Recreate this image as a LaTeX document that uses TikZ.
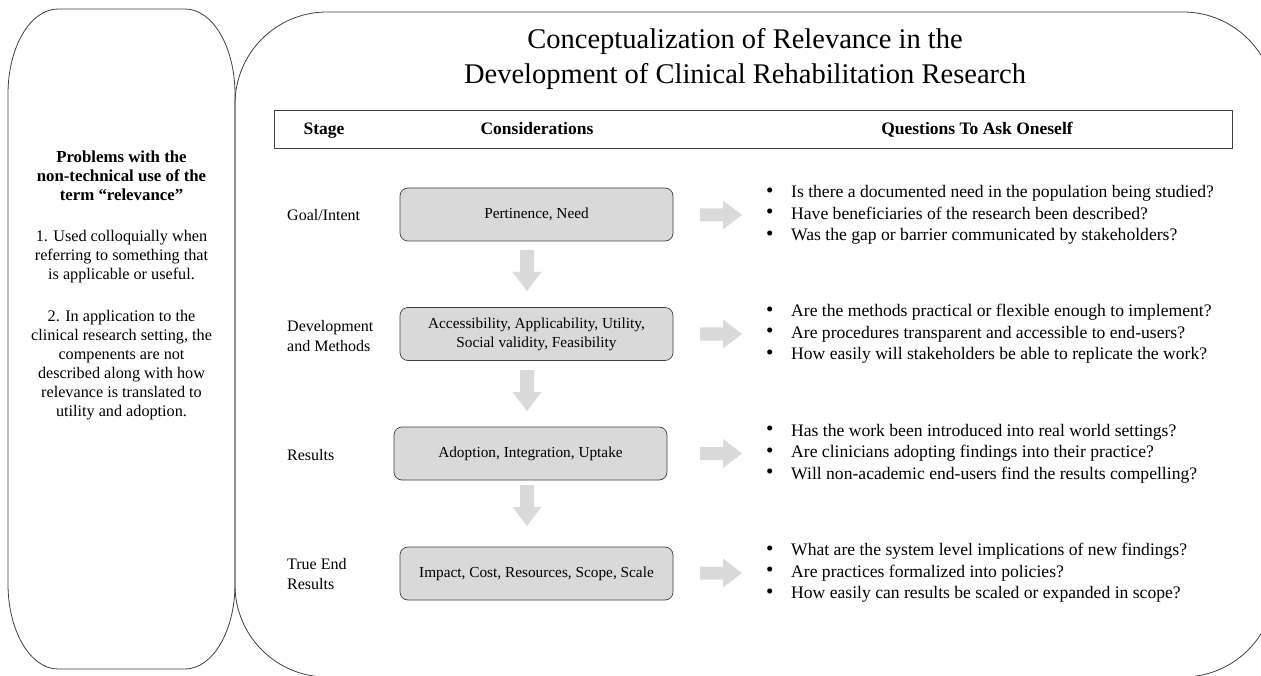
\documentclass[tikz,border=0pt]{standalone}
\usepackage{fontspec}
\setmainfont{Liberation Serif}
\usetikzlibrary{calc}
\definecolor{boxgray}{HTML}{D9D9D9}
\definecolor{arrgray}{HTML}{DADADA}
\definecolor{linegray}{HTML}{404040}
\begin{document}
\begin{tikzpicture}[x=1pt,y=-1pt,
  panel/.style={draw=linegray, line width=0.8pt},
  hdr/.style={font=\fontsize{17.5}{21}\selectfont\bfseries, inner sep=0pt, anchor=base},
  stagelbl/.style={font=\fontsize{16}{20}\selectfont, anchor=west, align=left, inner sep=0pt},
  consbox/.style={draw=linegray, fill=boxgray, rounded corners=8pt, minimum width=273pt, minimum height=53pt, font=\fontsize{15.3}{19}\selectfont, align=center, line width=0.7pt},
  qtext/.style={font=\fontsize{17.6}{21.5}\selectfont, anchor=west, align=left, inner sep=0pt},
  lefttext/.style={font=\fontsize{16.2}{19}\selectfont, align=center, inner sep=0pt},
  downarr/.pic={\fill[arrgray] (-7,0) -- (7,0) -- (7,22) -- (14.5,22) -- (0,41) -- (-14.5,22) -- (-7,22) -- cycle;},
  rightarr/.pic={\fill[arrgray] (0,-6.5) -- (23,-6.5) -- (23,-14.5) -- (42,0) -- (23,14.5) -- (23,6.5) -- (0,6.5) -- cycle;}
]
\useasboundingbox (0,0) rectangle (1261,676);
\clip (0,0) rectangle (1261,676);

% left panel
\draw[panel] (58,9) -- (185,9) .. controls (212.6,9) and (235,47) .. (235,94)
  -- (235,584) .. controls (235,631) and (212.6,669) .. (185,669)
  -- (58,669) .. controls (30.4,669) and (8,631) .. (8,584)
  -- (8,94) .. controls (8,47) and (30.4,9) .. (58,9) -- cycle;

% main panel
\draw[panel] (327,12) -- (1183,12) .. controls (1233.8,12) and (1275,53.2) .. (1275,104)
  -- (1275,585) .. controls (1275,635.8) and (1233.8,677) .. (1183,677)
  -- (327,677) .. controls (276.2,677) and (235,635.8) .. (235,585)
  -- (235,104) .. controls (235,53.2) and (276.2,12) .. (327,12) -- cycle;

% left panel text
\node[lefttext, font=\fontsize{16.8}{19}\selectfont\bfseries] (lt1) at (121.5,176) {Problems with the\\non-technical use of the\\term “relevance”};
\node[lefttext] (lt2) at (121.5,257) {1. Used colloquially when\\referring to something that\\is applicable or useful.};
\node[lefttext] (lt3) at (121.5,365) {2. In application to the\\clinical research setting, the\\compenents are not\\described along with how\\relevance is translated to\\utility and adoption.};

% title
\node[font=\fontsize{28.5}{35}\selectfont, align=center] (title) at (745,59) {Conceptualization of Relevance in the\\Development of Clinical Rehabilitation Research};

% header
\node[draw=linegray, line width=0.8pt, minimum width=958pt, minimum height=38pt, inner sep=0pt] (hdrbox) at (753,129) {};
\node[hdr] (hstage) at (324,135) {Stage};
\node[hdr] (hcons) at (537,135) {Considerations};
\node[hdr] (hques) at (977,135) {Questions To Ask Oneself};

% stage labels
\node[stagelbl] (s1) at (287,215) {Goal/Intent};
\node[stagelbl] (s2) at (287,336) {Development\\and Methods};
\node[stagelbl] (s3) at (287,455) {Results};
\node[stagelbl] (s4) at (287,574) {True End\\Results};

% consideration boxes
\node[consbox] (b1) at (536.5,214.5) {Pertinence, Need};
\node[consbox] (b2) at (536.5,334) {Accessibility, Applicability, Utility,\\Social validity, Feasibility};
\node[consbox] (b3) at (530.5,453.5) {Adoption, Integration, Uptake};
\node[consbox] (b4) at (536.5,573.5) {Impact, Cost, Resources, Scope, Scale};

% down arrows
\pic at (527,250) {downarr};
\pic at (527,370) {downarr};
\pic at (527,485) {downarr};

% right arrows
\pic at (700,215) {rightarr};
\pic at (700,334) {rightarr};
\pic at (700,453.5) {rightarr};
\pic at (700,573) {rightarr};

% questions
\newcommand\qb{\makebox[25pt][l]{\raisebox{0.3pt}{\scalebox{1.2}{\textbullet}}}}
\node[qtext] (q1) at (766,215) {\qb Is there a documented need in the population being studied?\\\qb Have beneficiaries of the research been described?\\\qb Was the gap or barrier communicated by stakeholders?};
\node[qtext] (q2) at (766,334) {\qb Are the methods practical or flexible enough to implement?\\\qb Are procedures transparent and accessible to end-users?\\\qb How easily will stakeholders be able to replicate the work?};
\node[qtext] (q3) at (766,453.5) {\qb Has the work been introduced into real world settings?\\\qb Are clinicians adopting findings into their practice?\\\qb Will non-academic end-users find the results compelling?};
\node[qtext] (q4) at (766,573) {\qb What are the system level implications of new findings?\\\qb Are practices formalized into policies?\\\qb How easily can results be scaled or expanded in scope?};
\end{tikzpicture}
\end{document}
